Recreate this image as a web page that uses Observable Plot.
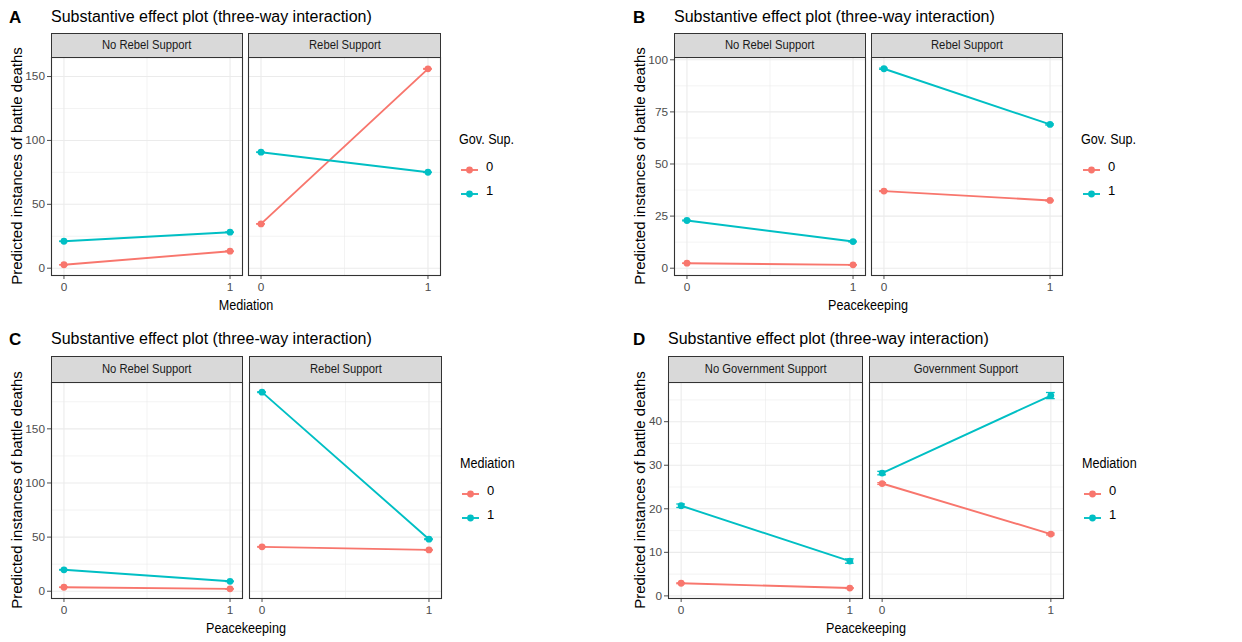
<!DOCTYPE html>
<html>
<head>
<meta charset="utf-8">
<script src="https://cdn.jsdelivr.net/npm/d3@7"></script>
<script src="https://cdn.jsdelivr.net/npm/@observablehq/plot@0.6"></script>
<style>
  html, body { margin: 0; padding: 0; background: #fff; }
  body { font-family: "Liberation Sans", Arial, sans-serif; }
  #root { position: relative; width: 1242px; height: 642px; overflow: hidden; background: #fff; }
  .txt { position: absolute; white-space: nowrap; line-height: 1; color: #000; }
  .strip { position: absolute; box-sizing: border-box; background: #d9d9d9; border: 1px solid #333;
           display: flex; align-items: center; justify-content: center; color: #1a1a1a; font-size: 12.5px; line-height: 1; }
  .strip span { display: inline-block; transform: scaleX(0.9); white-space: nowrap; }
  .plotsvg { position: absolute; }
  .plotsvg text { font-size: 11.8px !important; font-family: "Liberation Sans", Arial, sans-serif !important; fill: #4d4d4d; }
</style>
</head>
<body>
<div id="root"></div>
<script>
// ---------------- DATA ----------------
const xLevels = [0, 1];
const xMinor = [0.5];
const groupLevels = ["0", "1"];
const groupColors = ["#F8766D", "#00BFC4"];
// row layout shared by all panels: facet index, group level, x value
const rowFacet = [0, 0, 0, 0, 1, 1, 1, 1];
const rowGroup = ["0", "0", "1", "1", "0", "0", "1", "1"];
const rowX     = [0, 1, 0, 1, 0, 1, 0, 1];

const titleText = "Substantive effect plot (three-way interaction)";
const yTitleText = "Predicted instances of battle deaths";

// Panel A
const facetsA = ["No Rebel Support", "Rebel Support"];
const valueA = [2.7, 13.3, 21.1, 28.2, 34.7, 156.0, 90.8, 75.1];
const lowerA = [2.6, 13.1, 20.9, 28.0, 34.5, 155.7, 90.6, 74.9];
const upperA = [2.8, 13.5, 21.3, 28.4, 34.9, 156.3, 91.0, 75.3];
const yTicksA = [0, 50, 100, 150];
const yMinorA = [25, 75, 125];
const xTitleA = "Mediation";
const legendTitleA = "Gov. Sup.";

// Panel B
const facetsB = ["No Rebel Support", "Rebel Support"];
const valueB = [2.4, 1.6, 22.9, 12.8, 37.0, 32.5, 95.7, 69.0];
const lowerB = [2.3, 1.5, 22.7, 12.6, 36.8, 32.3, 95.4, 68.7];
const upperB = [2.5, 1.7, 23.1, 13.0, 37.2, 32.7, 96.0, 69.3];
const yTicksB = [0, 25, 50, 75, 100];
const yMinorB = [12.5, 37.5, 62.5, 87.5];
const xTitleB = "Peacekeeping";
const legendTitleB = "Gov. Sup.";

// Panel C
const facetsC = ["No Rebel Support", "Rebel Support"];
const valueC = [3.7, 2.2, 19.8, 9.2, 41.0, 38.2, 183.9, 48.1];
const lowerC = [3.5, 2.0, 19.5, 8.9, 40.7, 37.9, 183.5, 47.7];
const upperC = [3.9, 2.4, 20.1, 9.5, 41.3, 38.5, 184.3, 48.5];
const yTicksC = [0, 50, 100, 150];
const yMinorC = [25, 75, 125, 175];
const xTitleC = "Peacekeeping";
const legendTitleC = "Mediation";

// Panel D
const facetsD = ["No Government Support", "Government Support"];
const valueD = [2.9, 1.8, 20.7, 8.0, 25.8, 14.2, 28.2, 46.0];
const lowerD = [2.8, 1.7, 20.3, 7.5, 25.6, 14.0, 27.8, 45.3];
const upperD = [3.0, 1.9, 21.1, 8.5, 26.0, 14.4, 28.6, 46.7];
const yTicksD = [0, 10, 20, 30, 40];
const yMinorD = [5, 15, 25, 35, 45];
const xTitleD = "Peacekeeping";
const legendTitleD = "Mediation";

// ---------------- LAYOUT ----------------
const panels = [
  {letter: "A", facets: facetsA, value: valueA, lower: lowerA, upper: upperA, yTicks: yTicksA, yMinor: yMinorA,
   xTitle: xTitleA, legendTitle: legendTitleA, yDomain: [-5.7, 164.9],
   letterX: 9, titleX: 51, titleY: 16.5, stripTop: 33, frameTop: 57, frameBottom: 275,
   left: [51, 242], right: [248, 440], yTitleX: 15.5, legendX: 459, legendY: 139},
  {letter: "B", facets: facetsB, value: valueB, lower: lowerB, upper: upperB, yTicks: yTicksB, yMinor: yMinorB,
   xTitle: xTitleB, legendTitle: legendTitleB, yDomain: [-3.5, 101.1],
   letterX: 633, titleX: 674, titleY: 16.5, stripTop: 33, frameTop: 57, frameBottom: 275,
   left: [674, 865], right: [871, 1062], yTitleX: 639, legendX: 1081, legendY: 139},
  {letter: "C", facets: facetsC, value: valueC, lower: lowerC, upper: upperC, yTicks: yTicksC, yMinor: yMinorC,
   xTitle: xTitleC, legendTitle: legendTitleC, yDomain: [-6.7, 192.8],
   letterX: 9, titleX: 51, titleY: 339, stripTop: 356, frameTop: 382, frameBottom: 598,
   left: [51, 242], right: [249, 441], yTitleX: 15.5, legendX: 460, legendY: 463},
  {letter: "D", facets: facetsD, value: valueD, lower: lowerD, upper: upperD, yTicks: yTicksD, yMinor: yMinorD,
   xTitle: xTitleD, legendTitle: legendTitleD, yDomain: [-0.6, 49.0],
   letterX: 633, titleX: 668, titleY: 339, stripTop: 356, frameTop: 382, frameBottom: 598,
   left: [668, 862], right: [869, 1063], yTitleX: 639, legendX: 1082, legendY: 463}
];

const root = document.getElementById("root");
const FONT = "'Liberation Sans', Arial, sans-serif";
const capHalf = 0.026;

function addText(text, x, y, opts = {}) {
  const d = document.createElement("div");
  d.className = "txt";
  d.textContent = text;
  d.style.left = x + "px";
  d.style.top = y + "px";
  d.style.fontSize = (opts.size || 14) + "px";
  if (opts.weight) d.style.fontWeight = opts.weight;
  if (opts.color) d.style.color = opts.color;
  d.style.transformOrigin = opts.origin || "center center";
  d.style.transform = opts.transform || "translateY(-50%)";
  root.appendChild(d);
  return d;
}

function facetPlot(p, f, withY) {
  const [fx0, fx1] = f === 0 ? p.left : p.right;
  const fw = fx1 - fx0, fh = p.frameBottom - p.frameTop;
  const mL = withY ? 40 : 1, mR = 1, mT = 1, mB = 24;
  const data = p.value.map((v, i) => ({
    facet: rowFacet[i], group: rowGroup[i], x: rowX[i], value: v, lower: p.lower[i], upper: p.upper[i]
  })).filter(d => d.facet === f);
  const svg = Plot.plot({
    width: fw + mL + mR,
    height: fh + mT + mB,
    marginLeft: mL, marginRight: mR, marginTop: mT, marginBottom: mB,
    style: {background: "white", color: "#4d4d4d", fontSize: "11.8px", fontFamily: FONT, overflow: "visible"},
    x: {domain: [-0.075, 1.075], ticks: xLevels, tickSize: 4, tickPadding: 3, tickFormat: d => String(d), label: null},
    y: withY
      ? {domain: p.yDomain, ticks: p.yTicks, tickSize: 4, tickPadding: 2.5, tickFormat: d => String(d), label: null}
      : {domain: p.yDomain, axis: null},
    color: {domain: groupLevels, range: groupColors},
    marks: [
      Plot.ruleY(p.yMinor, {stroke: "#ebebeb", strokeWidth: 0.6}),
      Plot.ruleX(xMinor, {stroke: "#ebebeb", strokeWidth: 0.6}),
      Plot.ruleY(p.yTicks, {stroke: "#ebebeb", strokeWidth: 1.1}),
      Plot.ruleX(xLevels, {stroke: "#ebebeb", strokeWidth: 1.1}),
      Plot.line(data, {x: "x", y: "value", z: "group", stroke: "group", strokeWidth: 1.9}),
      Plot.ruleX(data, {x: "x", y1: "lower", y2: "upper", stroke: "group", strokeWidth: 1.3}),
      Plot.ruleY(data, {y: "lower", x1: d => d.x - capHalf, x2: d => d.x + capHalf, stroke: "group", strokeWidth: 1.3}),
      Plot.ruleY(data, {y: "upper", x1: d => d.x - capHalf, x2: d => d.x + capHalf, stroke: "group", strokeWidth: 1.3}),
      Plot.dot(data, {x: "x", y: "value", fill: "group", r: 3.4}),
      Plot.frame({stroke: "#333333", strokeWidth: 1.1})
    ]
  });
  svg.classList.add("plotsvg");
  svg.style.position = "absolute";
  svg.style.left = (fx0 - mL) + "px";
  svg.style.top = (p.frameTop - mT) + "px";
  root.appendChild(svg);

  // strip
  const s = document.createElement("div");
  s.className = "strip";
  s.style.left = fx0 + "px";
  s.style.top = p.stripTop + "px";
  s.style.width = (fw + 1) + "px";
  s.style.height = (p.frameTop - p.stripTop + 1) + "px";
  const sp = document.createElement("span");
  sp.textContent = p.facets[f];
  s.appendChild(sp);
  root.appendChild(s);
}

function legendKey(color) {
  const ns = "http://www.w3.org/2000/svg";
  const svg = document.createElementNS(ns, "svg");
  svg.setAttribute("width", 18); svg.setAttribute("height", 10);
  const line = document.createElementNS(ns, "line");
  line.setAttribute("x1", 0); line.setAttribute("x2", 17); line.setAttribute("y1", 5); line.setAttribute("y2", 5);
  line.setAttribute("stroke", color); line.setAttribute("stroke-width", 1.9);
  const c = document.createElementNS(ns, "circle");
  c.setAttribute("cx", 8.5); c.setAttribute("cy", 5); c.setAttribute("r", 3.4); c.setAttribute("fill", color);
  svg.appendChild(line); svg.appendChild(c);
  return svg;
}

for (const p of panels) {
  addText(p.letter, p.letterX, p.titleY, {size: 17, weight: "bold"});
  addText(titleText, p.titleX, p.titleY, {size: 16});
  facetPlot(p, 0, true);
  facetPlot(p, 1, false);
  const cx = (p.left[0] + p.right[1]) / 2;
  addText(p.xTitle, cx, p.frameBottom + 30, {size: 14, transform: "translate(-50%, -50%) scaleX(0.9)"});
  const cy = (p.frameTop + p.frameBottom) / 2;
  addText(yTitleText, p.yTitleX, cy, {size: 15, transform: "translate(-50%, -50%) rotate(-90deg)"});
  addText(p.legendTitle, p.legendX, p.legendY, {size: 14, origin: "left center", transform: "translateY(-50%) scaleX(0.9)"});
  groupLevels.forEach((g, i) => {
    const row = document.createElement("div");
    row.style.position = "absolute";
    row.style.left = (p.legendX + 2) + "px";
    row.style.top = (p.legendY + 27 + i * 24 - 5) + "px";
    row.style.height = "10px";
    row.appendChild(legendKey(groupColors[i]));
    root.appendChild(row);
    addText(g, p.legendX + 27, p.legendY + 27 + i * 24, {size: 13});
  });
}
</script>
</body>
</html>
